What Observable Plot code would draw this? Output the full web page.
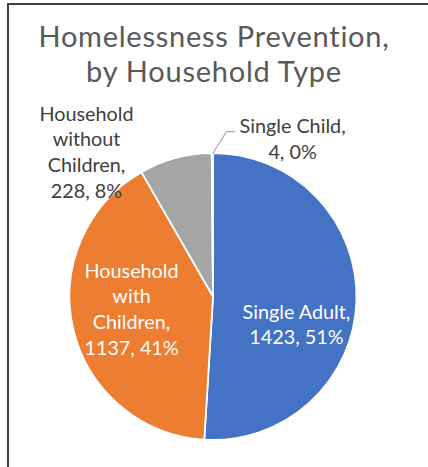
<!DOCTYPE html>
<html><head><meta charset="utf-8">
<script src="https://cdn.jsdelivr.net/npm/d3@7"></script>
<script src="https://cdn.jsdelivr.net/npm/@observablehq/plot@0.6"></script>
<style>
body{margin:0;background:#fff;width:428px;height:467px;overflow:hidden;}
#frame{position:absolute;left:7px;top:3px;width:440px;height:480px;border-top:2px solid #404040;border-left:2px solid #404040;}
#title{position:absolute;left:0;top:0;width:428px;height:95px;text-align:center;font-family:Lato;font-size:29px;letter-spacing:0.75px;line-height:35px;color:#595959;padding-top:18px;box-sizing:border-box;}
#chart{position:absolute;left:0;top:95px;}
</style></head>
<body>
<div id="frame"></div>
<div id="title">Homelessness Prevention,<br>by Household Type</div>
<div id="chart"></div>
<script>
// ---- data ----
const categories = ["Single Adult", "Household with Children", "Household without Children", "Single Child"];
const values = [1423, 1137, 228, 4];
const labelNames = ["Single Adult", "Household\nwith\nChildren", "Household\nwithout\nChildren", "Single Child"];
const colors = ["#4472C4", "#ED7D31", "#A5A5A5", "#FFC000"];

// ---- layout (positions in pie-radius units, y up) ----
const labelPos = [
  {x: 0.578, y: -0.185, color: "#ffffff"},
  {x: -0.571, y: -0.077, color: "#ffffff"},
  {x: -0.885, y: 1.017, color: "#404040"},
  {x: 0.551, y: 1.111, color: "#404040"}
];

const total = d3.sum(values);
const fmtPct = d3.format(".0%");
const arcs = d3.pie().sort(null).startAngle(0).endAngle(2 * Math.PI)(values);
const slices = categories.map((c, i) => ({
  category: c, value: values[i], start: arcs[i].startAngle, end: arcs[i].endAngle,
  label: `${labelNames[i]},\n${values[i]}, ${fmtPct(values[i] / total)}`,
  lx: labelPos[i].x, ly: labelPos[i].y, lc: labelPos[i].color
}));

// leader line for the tiny Single Child slice: from its arc edge to the label
const sc = slices[3];
const mid = (sc.start + sc.end) / 2;
const leader = [
  {x: Math.sin(mid), y: Math.cos(mid)},
  {x: sc.lx - 0.46, y: sc.ly + 0.042},
  {x: sc.lx - 0.405, y: sc.ly + 0.042}
];

const cx = 213, cy = 296.5 - 95, R = 143.5;

const chart = Plot.plot({
  width: 428,
  height: 372,
  margin: 0,
  x: {domain: [-1, 1], range: [cx - R, cx + R], axis: null},
  y: {domain: [-1, 1], range: [cy + R, cy - R], axis: null},
  color: {domain: categories, range: colors},
  style: {background: "transparent"},
  marks: [
    Plot.dot(slices, {
      x: () => 0, y: () => 0, fill: "category",
      render(index, scales, values, dimensions, context) {
        const ox = scales.x(0), oy = scales.y(0);
        const r = scales.x(1) - scales.x(0);
        const arc = d3.arc().innerRadius(0).outerRadius(r);
        const g = d3.create("svg:g").attr("transform", `translate(${ox},${oy})`);
        for (const i of index) {
          g.append("path")
            .attr("d", arc({startAngle: slices[i].start, endAngle: slices[i].end}))
            .attr("fill", values.fill[i])
            .attr("stroke", "#ffffff")
            .attr("stroke-width", 1.8)
            .attr("stroke-linejoin", "round");
        }
        return g.node();
      }
    }),
    Plot.line(leader, {x: "x", y: "y", stroke: "#A6A6A6", strokeWidth: 1.2}),
    Plot.text(slices, {
      x: "lx", y: "ly", text: "label", fill: d => d.lc,
      fontSize: 19.8, fontFamily: "Lato", lineHeight: 1.29, textAnchor: "middle"
    })
  ]
});
document.getElementById("chart").appendChild(chart);
</script>
</body></html>
